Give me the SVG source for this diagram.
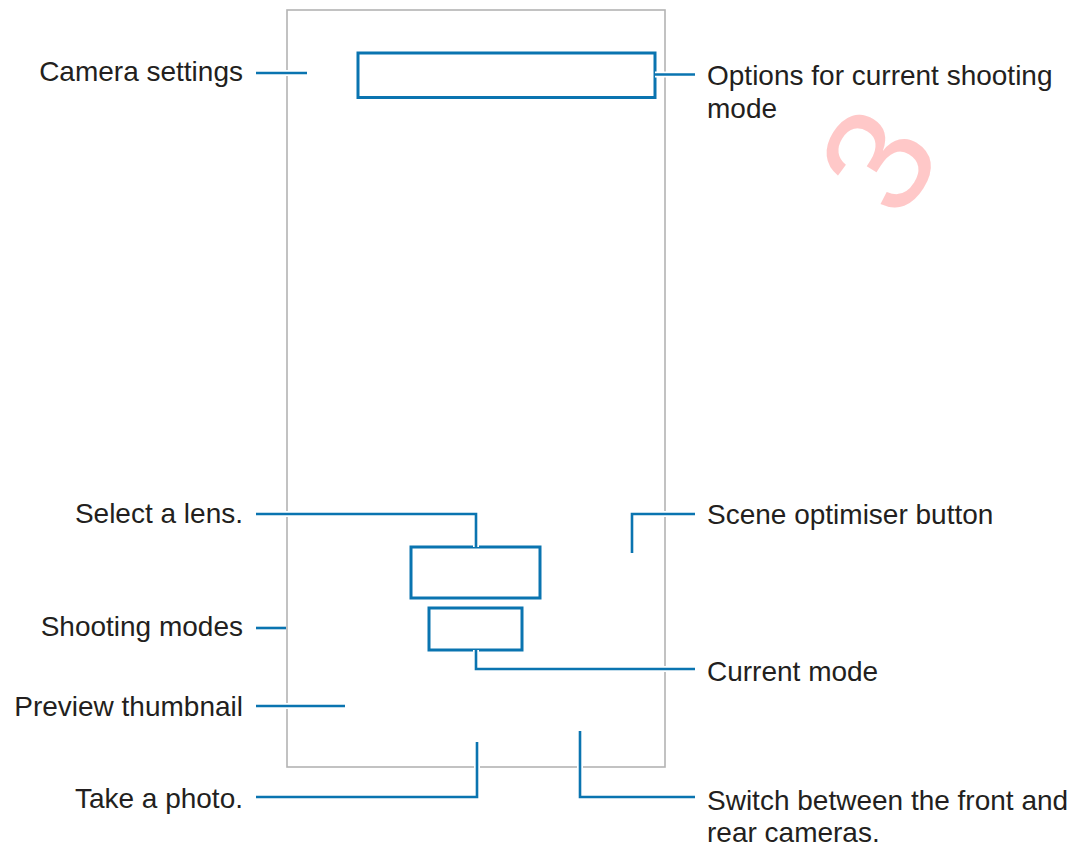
<svg xmlns="http://www.w3.org/2000/svg" width="1084" height="849" viewBox="0 0 1084 849">
<style>
.lbl{font-family:"Liberation Sans",Arial,sans-serif;font-size:28px;fill:#231f20}
.r{text-anchor:end}
.box{fill:none;stroke:#0a74b0;stroke-width:3}
.halo{fill:none;stroke:#fff;stroke-width:6}
.ln{fill:none;stroke:#0a74b0;stroke-width:2.6}
</style>
<rect width="1084" height="849" fill="#fff"/>
<text x="878" y="160" transform="rotate(-58 878 160)" text-anchor="middle" dominant-baseline="central" style="font-family:'Liberation Sans',sans-serif;font-size:150px;fill:#ffc8c8">3</text>
<g id="frame"><rect x="287" y="10" width="378" height="757" fill="none" stroke="#b3b3b3" stroke-width="1.6"/></g>
<g id="options-box"><rect class="box" x="358" y="53" width="297" height="44.5"/></g>
<g id="lens-box"><rect class="box" x="411" y="547" width="129" height="51"/></g>
<g id="mode-box"><rect class="box" x="429" y="608" width="93" height="42"/></g>
<g id="connectors">
<g class="halo">
<path d="M256 73H307"/>
<path d="M655 74.5H695"/>
<path d="M256 514H476V547"/>
<path d="M632 553V514H695"/>
<path d="M256 628H286"/>
<path d="M476 650V669H695"/>
<path d="M256 706H345"/>
<path d="M256 797H477V742"/>
<path d="M580 731V797H695"/>
</g>
<g class="ln">
<path d="M256 73H307"/>
<path d="M655 74.5H695"/>
<path d="M256 514H476V547"/>
<path d="M632 553V514H695"/>
<path d="M256 628H286"/>
<path d="M476 650V669H695"/>
<path d="M256 706H345"/>
<path d="M256 797H477V742"/>
<path d="M580 731V797H695"/>
</g>
</g>
<g id="camera-settings"><text class="lbl r" x="243" y="81">Camera settings</text></g>
<g id="options-label"><text class="lbl" x="707" y="85">Options for current shooting</text><text class="lbl" x="707" y="118">mode</text></g>
<g id="select-lens"><text class="lbl r" x="243" y="523">Select a lens.</text></g>
<g id="scene-optimiser"><text class="lbl" x="707" y="524">Scene optimiser button</text></g>
<g id="shooting-modes"><text class="lbl r" x="243" y="636">Shooting modes</text></g>
<g id="current-mode"><text class="lbl" x="707" y="681">Current mode</text></g>
<g id="preview-thumbnail"><text class="lbl r" x="243" y="716">Preview thumbnail</text></g>
<g id="take-photo"><text class="lbl r" x="243" y="808">Take a photo.</text></g>
<g id="switch"><text class="lbl" x="707" y="810">Switch between the front and</text><text class="lbl" x="707" y="842">rear cameras.</text></g>
</svg>
